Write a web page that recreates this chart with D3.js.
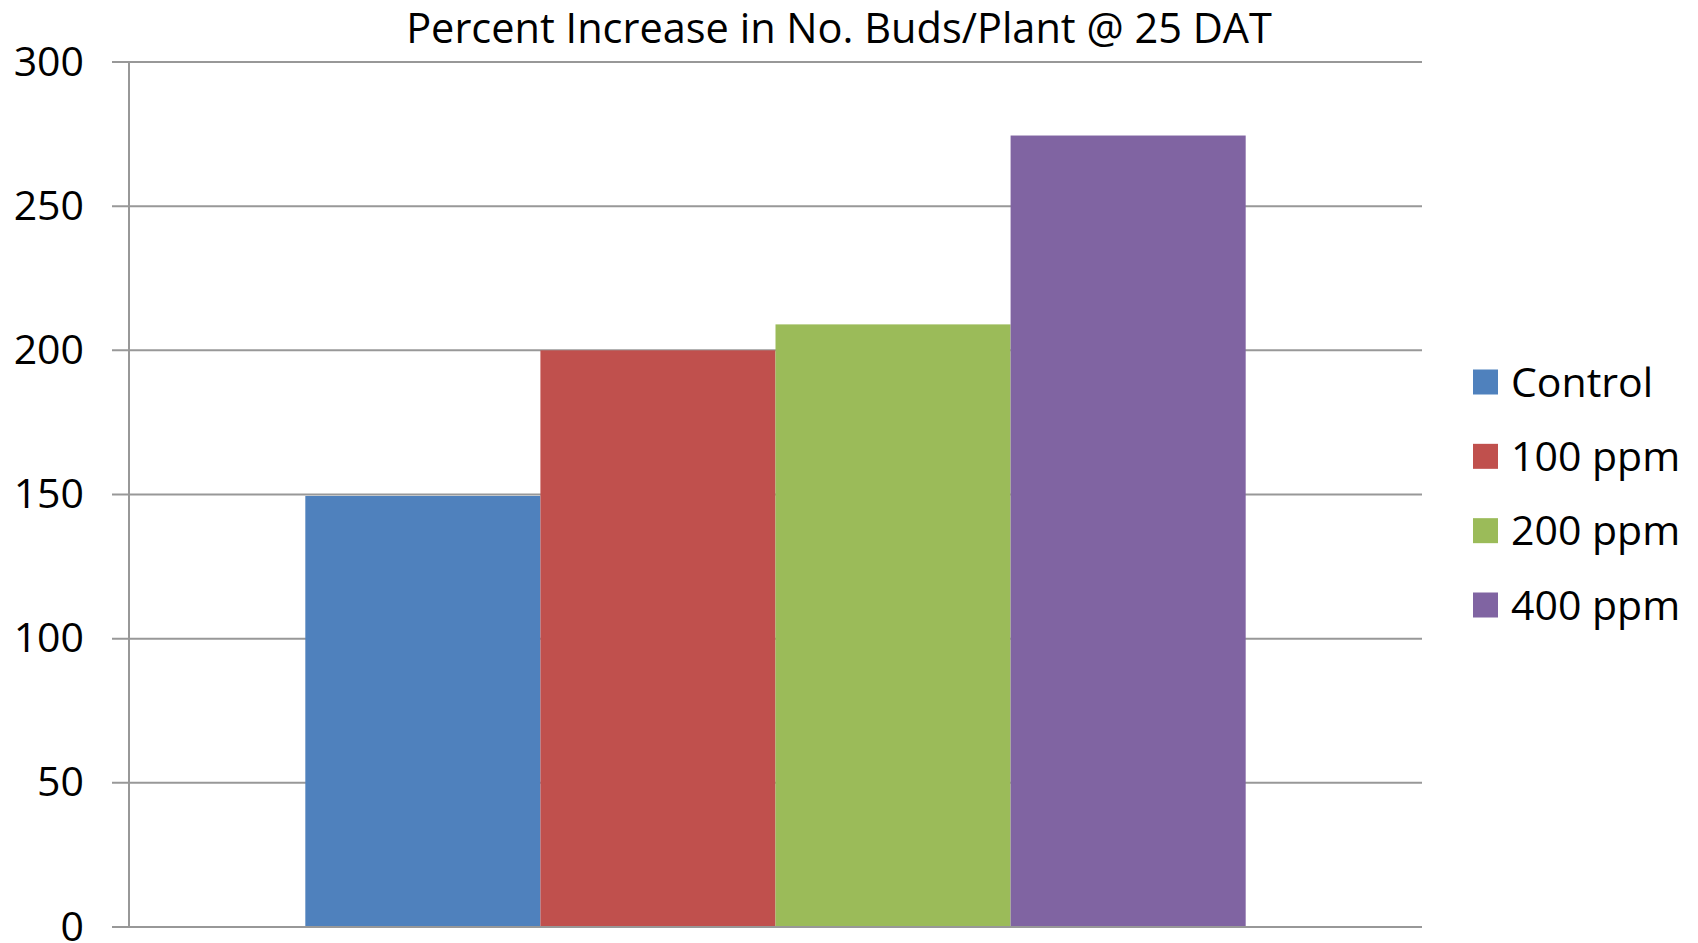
<!DOCTYPE html>
<html>
<head>
<meta charset="utf-8">
<script src="https://cdn.jsdelivr.net/npm/d3@7"></script>
<style>
  html, body { margin: 0; padding: 0; background: #fff; }
  svg { display: block; }
  text { font-family: "Open Sans", "Noto Sans", sans-serif; fill: #000; }
</style>
</head>
<body>
<svg id="chart" width="1698" height="943"></svg>
<script>
const title = "Percent Increase in No. Buds/Plant @ 25 DAT";
const categories = ["25 DAT"];
const seriesNames = ["Control", "100 ppm", "200 ppm", "400 ppm"];
const seriesValues = [149.5, 200, 209, 274.5];
const seriesColors = ["#4F81BD", "#C0504D", "#9BBB59", "#8064A2"];
const yTicks = [0, 50, 100, 150, 200, 250, 300];

const svg = d3.select("#chart");

const y = d3.scaleLinear().domain([0, 300]).range([927, 62]);
const x0 = d3.scaleBand().domain(categories).range([129, 1422]).paddingInner(0).paddingOuter(0.1875);
const x1 = d3.scaleBand().domain(seriesNames).range([0, x0.bandwidth()]).padding(0);

// gridlines with ticks extending to the left
const yAxis = d3.axisLeft(y).tickValues(yTicks).tickSize(0).tickFormat(d3.format("d"));
const gridG = svg.append("g");
gridG.selectAll("line.grid").data(yTicks).join("line")
  .attr("class", "grid")
  .attr("x1", 112).attr("x2", 1422)
  .attr("y1", d => y(d)).attr("y2", d => y(d))
  .attr("stroke", "#989898").attr("stroke-width", 2);

// bars
const barG = svg.append("g");
categories.forEach(cat => {
  barG.selectAll("rect").data(seriesNames.map((s, i) => ({ s, v: seriesValues[i], c: seriesColors[i] })))
    .join("rect")
    .attr("x", d => x0(cat) + x1(d.s))
    .attr("y", d => y(d.v))
    .attr("width", x1.bandwidth())
    .attr("height", d => y(0) - y(d.v))
    .attr("fill", d => d.c);
});

// y axis line
svg.append("line").attr("x1", 129).attr("x2", 129).attr("y1", 62).attr("y2", 927)
  .attr("stroke", "#989898").attr("stroke-width", 2);
// bottom axis line
svg.append("line").attr("x1", 112).attr("x2", 1422).attr("y1", y(0)).attr("y2", y(0))
  .attr("stroke", "#989898").attr("stroke-width", 2);

// y axis labels
const axG = svg.append("g").attr("transform", "translate(84,0)").call(yAxis);
axG.select(".domain").remove();
axG.selectAll("text").attr("x", 0).attr("dy", "0.32em")
  .style("font-size", "41px").style("font-family", "'Open Sans', sans-serif").attr("fill", "#000");

// title
svg.append("text").attr("x", 839).attr("y", 43).attr("text-anchor", "middle")
  .style("font-size", "41.5px").text(title);

// legend
const leg = svg.append("g");
const legY = d3.scalePoint().domain(seriesNames).range([382, 605]);
seriesNames.forEach((s, i) => {
  leg.append("rect").attr("x", 1473).attr("y", legY(s) - 12.5).attr("width", 25).attr("height", 25)
    .attr("fill", seriesColors[i]);
  leg.append("text").attr("x", 1511).attr("y", legY(s)).attr("dy", "0.36em")
    .style("font-size", "41px").text(s);
});
</script>
</body>
</html>
